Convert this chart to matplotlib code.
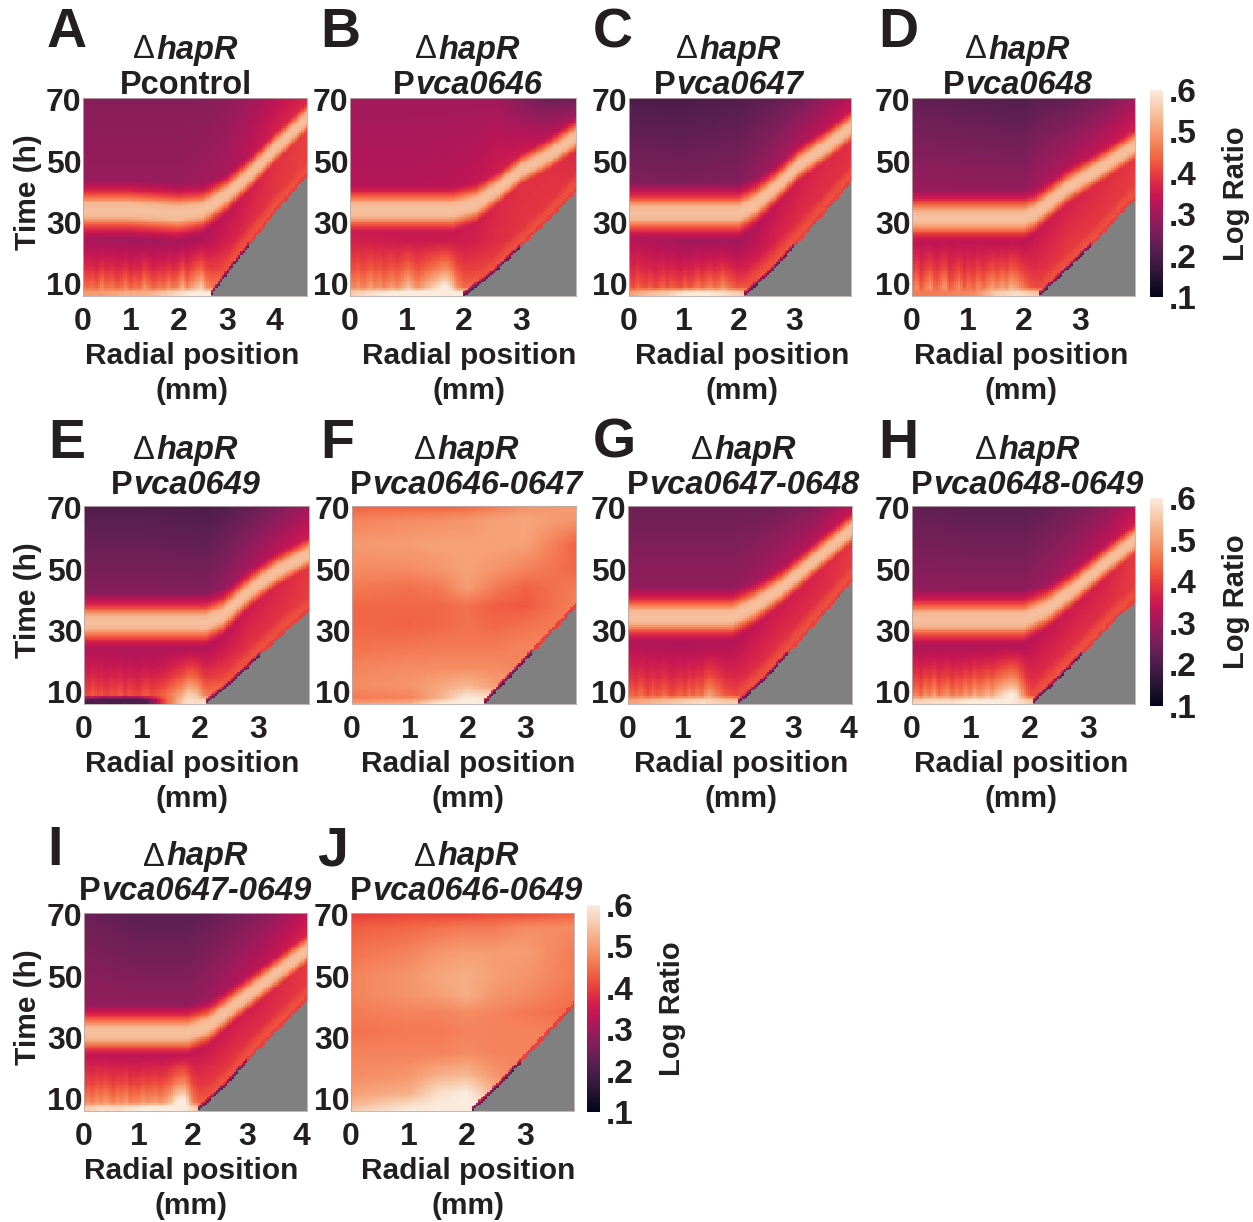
import numpy as np
import seaborn as sns
import matplotlib
matplotlib.use('Agg')
from matplotlib import pyplot as plt

W, H = 1253, 1222
plt.rcParams['font.family'] = ['Liberation Sans', 'DejaVu Sans']
plt.rcParams['font.weight'] = 'bold'
TEXT = '#231f20'

# value range of the log ratio
v_low, v_high = 0.1, 0.6
time_top, time_bottom = 70.6, 6.0
time_ticks = [10, 30, 50, 70]
bar_ticks = [0.1, 0.2, 0.3, 0.4, 0.5, 0.6]
bar_labels = ['.1', '.2', '.3', '.4', '.5', '.6']

# panels with a sharp band: r = radial knots, ridge = band time, half = band half width,
# below / above / top = background under the band, just over it, at the end of the run
r_a = [0, 1, 2, 2.5, 3, 3.5, 4, 4.67]
ridge_a = [34, 34, 33, 34, 39, 46, 54, 64]
half_a = [3.7, 3.7, 3.7, 3.4, 3, 2.9, 2.9, 2.9]
below_a = [.31, .30, .30, .32, .36, .39, .40, .41]
above_a = [.30, .30, .30, .31, .32, .35, .38, .40]
top_a = [.27, .27, .27, .27, .28, .30, .33, .37]
front_r_a = [2.67, 3, 3.5, 4, 4.67]
front_t_a = [6, 13, 23, 33, 45]
base_a = [.46, .44, .45, .43, .48, .44, .46, .43, .44, .47, .43, .45, .44, .49, .45, .43,
          .46, .44, .48, .45, .47, .52, .46, .50, .53, .56, .48, .46]
floor_a = [.50, .50, .52, .52, .56, .60, .60]

r_b = [0, 1, 1.8, 2.2, 2.6, 3, 3.5, 3.96]
ridge_b = [34, 34, 34, 36, 41, 47, 52, 58]
half_b = [3.6, 3.6, 3.6, 3.4, 3, 2.9, 2.9, 2.9]
below_b = [.36, .35, .35, .36, .38, .39, .40, .41]
above_b = [.33, .33, .34, .35, .37, .38, .38, .37]
top_b = [.30, .30, .30, .30, .30, .27, .24, .25]
front_r_b = [2.0, 2.5, 3, 3.5, 3.96]
front_t_b = [6, 13, 22, 31, 40]
base_b = [.48, .47, .49, .46, .48, .50, .47, .49, .46, .48, .50, .47, .49, .52, .54, .50,
          .48, .50, .52, .54, .56, .58, .60, .60, .56, .50, .46, .44]
floor_b = [.56, .58, .60, .62, .62, .62, .60]

r_c = [0, 1, 2, 2.3, 2.7, 3.1, 3.6, 4.03]
ridge_c = [33, 33, 33, 36, 42, 49, 55, 61]
half_c = [3.5, 3.5, 3.5, 3.3, 3, 2.9, 2.9, 2.9]
below_c = [.33, .30, .30, .33, .37, .39, .40, .40]
above_c = [.29, .28, .29, .31, .33, .35, .37, .38]
top_c = [.20, .20, .21, .22, .23, .25, .29, .33]
front_r_c = [2.1, 2.6, 3.1, 3.6, 4.03]
front_t_c = [6, 14, 24, 34, 43]
base_c = [.43, .41, .44, .42, .41, .43, .40, .42, .44, .41, .43, .42, .41, .44, .42, .43,
          .46, .43, .45, .47, .44, .46, .48, .45, .44, .42, .42, .42]
floor_c = [.50, .54, .56, .60, .60, .58, .55]

r_d = [0, 1, 2, 2.2, 2.8, 3.3, 3.98]
ridge_d = [31.5, 31.5, 31.5, 33, 41.6, 47, 55]
half_d = [3.5, 3.5, 3.5, 3.3, 3, 2.9, 2.9]
below_d = [.33, .33, .33, .35, .39, .40, .41]
above_d = [.31, .31, .31, .33, .35, .37, .39]
top_d = [.23, .22, .21, .22, .23, .25, .30]
front_r_d = [2.28, 2.8, 3.3, 3.84, 3.98]
front_t_d = [6, 15, 24, 35, 37]
base_d = [.44, .48, .42, .47, .50, .43, .46, .50, .42, .45, .48, .42, .46, .43, .48, .44,
          .47, .50, .47, .50, .48, .52, .50, .47, .44, .42, .41, .41]
floor_d = [.46, .46, .47, .48, .56, .58, .55]

r_e = [0, 1, 2.1, 2.4, 2.86, 3.3, 3.88]
ridge_e = [32.5, 32.5, 32.5, 35, 43, 49, 55]
half_e = [3.5, 3.5, 3.5, 3.3, 3, 2.9, 2.9]
below_e = [.32, .31, .32, .35, .39, .40, .41]
above_e = [.29, .29, .29, .31, .34, .36, .39]
top_e = [.21, .21, .20, .21, .23, .26, .30]
front_r_e = [2.1, 2.5, 3, 3.5, 3.88]
front_t_e = [6, 12, 21, 30, 36]
base_e = [.42, .41, .43, .41, .42, .40, .42, .41, .43, .40, .42, .41, .40, .42, .43, .41,
          .42, .43, .44, .46, .48, .50, .52, .56, .56, .54, .50, .46]
floor_e = [.20, .14, .13, .18, .42, .58, .58]

r_g = [0, 1, 1.9, 2.3, 2.8, 3.4, 4.07]
ridge_g = [34.5, 34.5, 34.5, 38, 44, 53, 63]
half_g = [3.5, 3.5, 3.5, 3.3, 3, 2.9, 2.9]
below_g = [.33, .32, .33, .36, .39, .40, .41]
above_g = [.30, .30, .30, .32, .34, .36, .39]
top_g = [.24, .24, .24, .24, .25, .27, .33]
front_r_g = [2.0, 2.5, 3, 3.5, 4.07]
front_t_g = [6, 14, 24, 34, 46]
base_g = [.43, .44, .42, .45, .43, .41, .44, .42, .43, .45, .42, .41, .43, .44, .42, .45,
          .43, .46, .44, .48, .50, .48, .46, .44, .42, .42, .41, .41]
floor_g = [.50, .52, .54, .56, .58, .56, .55]

r_h = [0, 1, 1.9, 2.3, 2.8, 3.3, 3.8]
ridge_h = [33.5, 33.5, 33.5, 37, 44, 52, 59.5]
half_h = [3.6, 3.6, 3.6, 3.3, 3, 2.9, 2.9]
below_h = [.32, .32, .33, .36, .39, .40, .41]
above_h = [.30, .30, .30, .32, .34, .36, .39]
top_h = [.23, .22, .22, .23, .25, .28, .33]
front_r_h = [2.05, 2.5, 3, 3.5, 3.8]
front_t_h = [6, 14, 24, 34, 39]
base_h = [.45, .47, .44, .48, .46, .50, .45, .47, .49, .45, .48, .46, .50, .47, .52, .49,
          .50, .53, .50, .54, .56, .58, .60, .60, .55, .48, .43, .41]
floor_h = [.56, .58, .58, .60, .60, .60, .55]

r_i = [0, 1, 1.9, 2.3, 2.8, 3.4, 4.1]
ridge_i = [31.5, 31.5, 31.5, 34, 41, 49, 58.5]
half_i = [3.5, 3.5, 3.5, 3.3, 3, 2.9, 2.9]
below_i = [.34, .33, .34, .36, .39, .40, .41]
above_i = [.30, .30, .30, .32, .34, .36, .39]
top_i = [.24, .22, .22, .23, .25, .28, .34]
front_r_i = [2.1, 2.6, 3.1, 3.6, 4.1]
front_t_i = [6, 14, 24, 33, 42]
base_i = [.46, .48, .46, .49, .47, .50, .48, .46, .49, .47, .50, .46, .48, .47, .50, .48,
          .49, .50, .48, .50, .52, .56, .60, .62, .62, .52, .46, .43]
floor_i = [.56, .58, .58, .60, .62, .62, .55]

grid_times = [6, 8, 12, 18, 25, 32, 38, 44, 50, 58, 66, 70]
grid_r = [0, 1, 1.5, 2, 2.5, 3, 3.88]
grid_f = [
    [.50, .52, .60, .62, .60, .50, .50],
    [.46, .47, .52, .60, .58, .50, .50],
    [.48, .49, .51, .53, .50, .50, .50],
    [.47, .48, .48, .48, .48, .47, .47],
    [.45, .455, .46, .46, .46, .47, .47],
    [.44, .435, .44, .45, .44, .45, .47],
    [.44, .44, .44, .45, .43, .425, .47],
    [.46, .45, .46, .50, .46, .435, .46],
    [.48, .48, .49, .505, .49, .47, .44],
    [.495, .50, .505, .505, .505, .505, .435],
    [.47, .48, .485, .49, .505, .51, .49],
    [.44, .44, .44, .45, .47, .49, .50],
]
grid_j = [
    [.56, .60, .60, .60, .60, .50, .50],
    [.53, .58, .60, .60, .60, .50, .50],
    [.50, .52, .58, .60, .52, .50, .50],
    [.48, .49, .52, .53, .49, .47, .47],
    [.47, .47, .47, .48, .47, .47, .47],
    [.45, .46, .46, .47, .47, .47, .47],
    [.46, .47, .47, .48, .47, .46, .44],
    [.47, .49, .50, .52, .49, .48, .45],
    [.47, .49, .51, .52, .50, .49, .46],
    [.45, .47, .49, .50, .50, .50, .46],
    [.43, .44, .45, .46, .46, .48, .48],
    [.40, .41, .41, .41, .42, .42, .44],
]
front_r_f = [2.3, 2.7, 3.2, 3.88]
front_t_f = [6, 14, 24, 37.5]
front_r_j = [2.1, 2.5, 3, 3.85]
front_t_j = [6, 13, 23, 40]

# band and front shapes: distance in band half widths / hours, value reached there
band_dist = [0, 0.6, 1.0, 1.4, 1.8, 2.4, 3.2]
band_vals = [.545, .53, .47, .41, .36, .31, .20]
front_dist = [0, 1, 1.6, 4, 8, 14, 20]
front_vals = [.20, .30, .42, .41, .37, .25, 0]

panels = [
    dict(key='A', sub='control', pos=(83, 307, 98), xmax=4.67, x_ticks=[0, 1, 2, 3, 4],
         r=r_a, ridge=ridge_a, half=half_a, below=below_a, above=above_a, top=top_a,
         fr=front_r_a, ft=front_t_a, base=base_a, floor=floor_a,
         letter=(47, 30), title=(186, 48), label_x=192),
    dict(key='B', sub='vca0646', pos=(350, 576, 98), xmax=3.96, x_ticks=[0, 1, 2, 3],
         r=r_b, ridge=ridge_b, half=half_b, below=below_b, above=above_b, top=top_b,
         fr=front_r_b, ft=front_t_b, base=base_b, floor=floor_b,
         letter=(320, 30), title=(468, 48), label_x=469),
    dict(key='C', sub='vca0647', pos=(629, 851, 98), xmax=4.03, x_ticks=[0, 1, 2, 3],
         r=r_c, ridge=ridge_c, half=half_c, below=below_c, above=above_c, top=top_c,
         fr=front_r_c, ft=front_t_c, base=base_c, floor=floor_c,
         letter=(593, 30), title=(729, 48), label_x=742),
    dict(key='D', sub='vca0648', pos=(912, 1135, 98), xmax=3.98, x_ticks=[0, 1, 2, 3],
         r=r_d, ridge=ridge_d, half=half_d, below=below_d, above=above_d, top=top_d,
         fr=front_r_d, ft=front_t_d, base=base_d, floor=floor_d,
         letter=(878, 30), title=(1018, 48), label_x=1021),
    dict(key='E', sub='vca0649', pos=(84, 309, 506), xmax=3.88, x_ticks=[0, 1, 2, 3],
         r=r_e, ridge=ridge_e, half=half_e, below=below_e, above=above_e, top=top_e,
         fr=front_r_e, ft=front_t_e, base=base_e, floor=floor_e,
         letter=(48, 441), title=(186, 448), label_x=192),
    dict(key='F', sub='vca0646-0647', pos=(352, 576, 506), xmax=3.88, x_ticks=[0, 1, 2, 3],
         grid=grid_f, fr=front_r_f, ft=front_t_f,
         letter=(320, 441), title=(467, 448), label_x=468),
    dict(key='G', sub='vca0647-0648', pos=(628, 852, 506), xmax=4.07, x_ticks=[0, 1, 2, 3, 4],
         r=r_g, ridge=ridge_g, half=half_g, below=below_g, above=above_g, top=top_g,
         fr=front_r_g, ft=front_t_g, base=base_g, floor=floor_g,
         letter=(593, 441), title=(744, 448), label_x=741),
    dict(key='H', sub='vca0648-0649', pos=(912, 1135, 506), xmax=3.8, x_ticks=[0, 1, 2, 3],
         r=r_h, ridge=ridge_h, half=half_h, below=below_h, above=above_h, top=top_h,
         fr=front_r_h, ft=front_t_h, base=base_h, floor=floor_h,
         letter=(878, 441), title=(1028, 448), label_x=1021),
    dict(key='I', sub='vca0647-0649', pos=(84, 307, 913), xmax=4.1, x_ticks=[0, 1, 2, 3, 4],
         r=r_i, ridge=ridge_i, half=half_i, below=below_i, above=above_i, top=top_i,
         fr=front_r_i, ft=front_t_i, base=base_i, floor=floor_i,
         letter=(47, 848), title=(196, 855), label_x=191),
    dict(key='J', sub='vca0646-0649', pos=(351, 574, 913), xmax=3.85, x_ticks=[0, 1, 2, 3],
         grid=grid_j, fr=front_r_j, ft=front_t_j,
         letter=(317, 848), title=(467, 855), label_x=468),
]

# colour bars: x0, x1, y0, y1, x of the Log Ratio label
bars = [(1150, 1163, 90, 297, 1236), (1150, 1163, 498, 706, 1236), (587, 600, 905, 1112, 672)]


def field(p, rs, ts):
    out = np.zeros((len(ts), len(rs)))
    if 'grid' in p:
        grid = np.array(p['grid'])
        by_time = np.array([np.interp(rs, grid_r, row) for row in grid])
        for j in range(len(rs)):
            out[:, j] = np.interp(ts, grid_times, by_time[:, j])
    else:
        base_r = np.linspace(0, p['fr'][0], len(p['base']))
        floor_r = np.linspace(0, p['fr'][0], len(p['floor']))
        for j, r in enumerate(rs):
            ridge = np.interp(r, p['r'], p['ridge'])
            half = np.interp(r, p['r'], p['half'])
            below = np.interp(r, p['r'], p['below'])
            above = np.interp(r, p['r'], p['above'])
            top = np.interp(r, p['r'], p['top'])
            base = np.interp(r, base_r, p['base'])
            floor = np.interp(r, floor_r, p['floor'])
            back = np.interp(ts, [6, 7, 9, 15, 24, ridge, 70],
                             [floor, floor, base, (base + below) / 2, below, above, top])
            band = np.interp(np.abs(ts - ridge) / half, band_dist, band_vals)
            out[:, j] = np.maximum(back, band)
    # red rim and dark specks along the colony front
    for j, r in enumerate(rs):
        front = np.interp(r, p['fr'], p['ft'])
        if r >= p['fr'][0]:
            rim = np.interp(ts - front, front_dist, front_vals)
            near = (ts >= front) & (ts < front + 1.6)
            out[near, j] = rim[near] if front < 22 else np.maximum(rim[near], .40)
            out[:, j] = np.maximum(out[:, j], np.where(ts >= front + 1.6, rim, 0))
        out[ts < front, j] = np.nan
    return out


def place(x0, x1, y0, y1):
    return [x0 / W, 1 - y1 / H, (x1 - x0) / W, (y1 - y0) / H]


def put(x, y, s, **kw):
    return fig.text(x / W, 1 - y / H, s, color=TEXT, ha=kw.pop('ha', 'center'), va=kw.pop('va', 'center'), **kw)


def mixed_line(x, y, parts, size=23.5):
    # several styles on one centred line, placed by their measured widths
    renderer = fig.canvas.get_renderer()
    items = []
    total = 0
    for s, weight, style in parts:
        t = fig.text(0, 1 - y / H, s, color=TEXT, fontsize=size, weight=weight, style=style,
                     va='center', ha='left')
        w = t.get_window_extent(renderer).width + 1
        items.append((t, w))
        total += w
    cur = x - total / 2
    for t, w in items:
        t.set_x(cur / W)
        cur += w


cmap = sns.color_palette('rocket', as_cmap=True).copy()
cmap.set_bad('#808080')

fig = plt.figure(figsize=(W / 100, H / 100), dpi=100)

for p in panels:
    x0, x1, y0 = p['pos']
    ax = fig.add_axes(place(x0, x1, y0, y0 + 198))
    rs = np.linspace(0, p['xmax'], 100)
    ts = np.linspace(time_bottom, time_top, 110)
    ax.pcolormesh(rs, ts, np.ma.masked_invalid(field(p, rs, ts)), cmap=cmap, vmin=v_low, vmax=v_high,
                  shading='nearest', rasterized=True)
    ax.set_xlim(0, p['xmax'])
    ax.set_ylim(time_bottom, time_top)
    ax.set_xticks(p['x_ticks'])
    ax.set_yticks(time_ticks)
    ax.tick_params(length=0, labelsize=23, colors=TEXT, pad=1)
    ax.tick_params(axis='x', pad=8)
    for s in ax.spines.values():
        s.set_color('#b9a9a9')
        s.set_linewidth(0.6)

    lx, ly = p['letter']
    put(lx, ly + 3, p['key'], ha='left', fontsize=40)
    tx, ty = p['title']
    mixed_line(tx, ty + 2, [('\u0394', 'normal', 'normal'), ('hapR', 'bold', 'italic')])
    if p['key'] == 'A':
        mixed_line(tx, ty + 37, [('Pcontrol', 'bold', 'normal')])
    else:
        mixed_line(tx, ty + 37, [('P', 'bold', 'normal'), (p['sub'], 'bold', 'italic')])
    put(p['label_x'], y0 + 258, 'Radial position', fontsize=21.5)
    put(p['label_x'], y0 + 293, '(mm)', fontsize=21.5)
    if p['key'] in 'AEI':
        put(28, y0 + 94, 'Time (h)', fontsize=21.5, rotation=90)

for bx0, bx1, by0, by1, lab_x in bars:
    cax = fig.add_axes(place(bx0, bx1, by0, by1))
    sm = plt.cm.ScalarMappable(cmap=cmap, norm=plt.Normalize(v_low, v_high))
    cb = fig.colorbar(sm, cax=cax)
    cb.set_ticks(bar_ticks)
    cb.set_ticklabels(bar_labels)
    cb.ax.tick_params(length=0, labelsize=24, colors=TEXT, pad=4)
    cb.outline.set_visible(False)
    put(lab_x, (by0 + by1) / 2, 'Log Ratio', fontsize=21, rotation=90)

fig.savefig('out.png', dpi=100)
